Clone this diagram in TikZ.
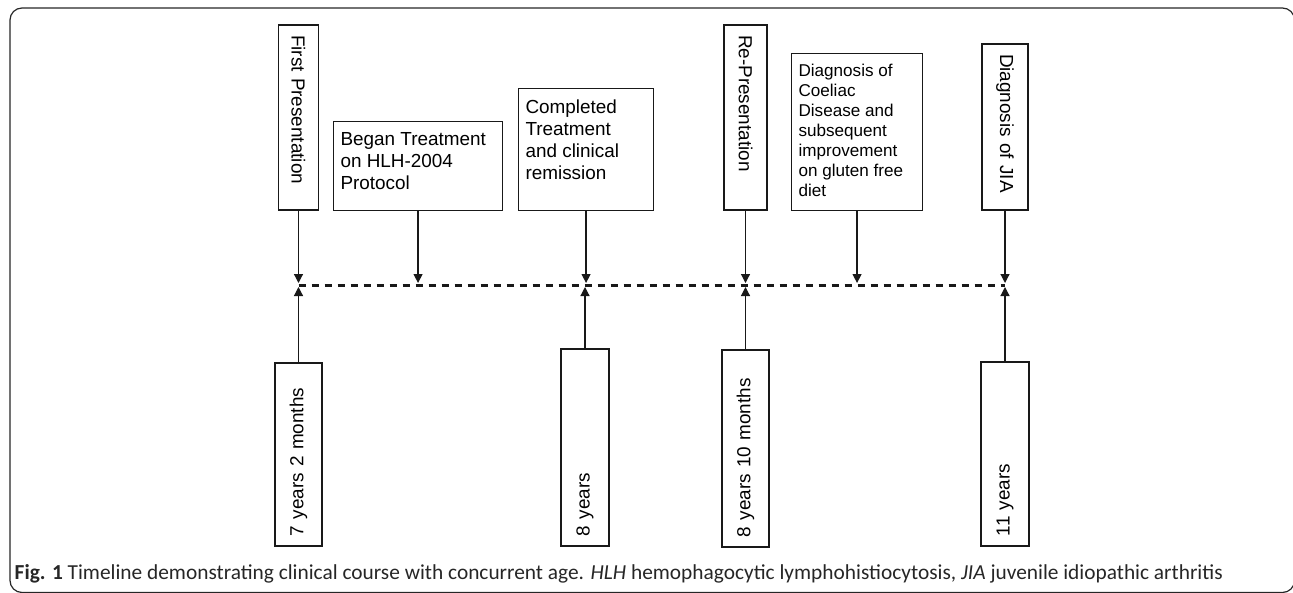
\documentclass[tikz,border=0pt]{standalone}
\usepackage{fontspec}
\usepackage{graphicx}
\usetikzlibrary{arrows.meta}
\newfontfamily\boxf{Liberation Sans}
\newfontfamily\capf{Carlito}
\begin{document}
\begin{tikzpicture}[x=1pt,y=-1pt,
  hbox/.style={draw=black!90, line width=1.1pt, inner xsep=7pt, inner ysep=0pt, anchor=north west, font=\boxf\fontsize{18.9}{22}\selectfont},
  vbox/.style={draw=black!90, line width=1.1pt, inner xsep=10pt, inner ysep=0pt, align=left, font=\boxf\fontsize{18.9}{22}\selectfont},
  link/.style={-{Triangle[length=9pt,width=9pt]}, line width=1.2pt, draw=black!90, shorten >=2pt},
  timeline/.style={line width=3pt, dash pattern=on 7.5pt off 5.5pt, draw=black!90}]
\useasboundingbox (0,0) rectangle (1293,592);
\begin{scope}
  \clip (0,0) rectangle (1293,592);
  \draw[line width=1.2pt, rounded corners=12pt, draw=black!85] (10,8) rectangle (1294.5,592.5);
\end{scope}

% top boxes
\node[vbox, rotate=-90, text width=165pt, minimum height=40pt] (fp) at (298.5,117.5) {First Presentation};
\node[hbox] (began) at (333,121) {\parbox[c][89pt][t]{155pt}{\raggedright\vspace*{11pt}Began Treatment\\on HLH-2004\\Protocol}};
\node[hbox] (comp) at (518,88) {\parbox[c][122pt][t]{121pt}{\raggedright\vspace*{11pt}Completed\\Treatment\\and clinical\\remission}};
\node[vbox, rotate=-90, text width=165pt, minimum height=43pt] (rp) at (745.5,117.5) {Re-Presentation};
\node[hbox, font=\boxf\fontsize{17.1}{20}\selectfont] (coel) at (791,53) {\parbox[c][157pt][t]{117pt}{\raggedright\vspace*{11pt}Diagnosis of\\Coeliac\\Disease and\\subsequent\\improvement\\on gluten free\\diet}};
\node[vbox, rotate=-90, text width=146pt, minimum height=46pt] (jia) at (1005,127) {Diagnosis of JIA};

% bottom boxes
\node[vbox, rotate=90, text width=163pt, minimum height=47pt] (b1) at (298.5,454.5) {7 years 2 months};
\node[vbox, rotate=90, text width=177pt, minimum height=48pt] (b2) at (585,447.5) {8 years};
\node[vbox, rotate=90, text width=177pt, minimum height=47pt] (b3) at (745.5,448.5) {8 years 10 months};
\node[vbox, rotate=90, text width=164pt, minimum height=48pt] (b4) at (1005,454) {11 years};

% timeline
\coordinate (tl0) at (298.5,285);
\coordinate (tl1) at (1005,285);
\draw[timeline] (tl0) -- (tl1);

% arrows
\foreach \n in {fp,rp,jia,b1,b2,b3,b4}{
  \draw[link] (\n.east) -- (\n.east |- tl0);
}
\foreach \n in {began,comp,coel}{
  \draw[link] (\n.south) -- (\n.south |- tl0);
}

% caption
\node[anchor=base west, inner sep=0pt, text=black!85] (cap) at (14.5,579) {\resizebox{1208pt}{!}{\capf\fontsize{19}{22}\selectfont\textbf{Fig. 1} Timeline demonstrating clinical course with concurrent age. \textit{HLH} hemophagocytic lymphohistiocytosis, \textit{JIA} juvenile idiopathic arthritis}};
\end{tikzpicture}
\end{document}
